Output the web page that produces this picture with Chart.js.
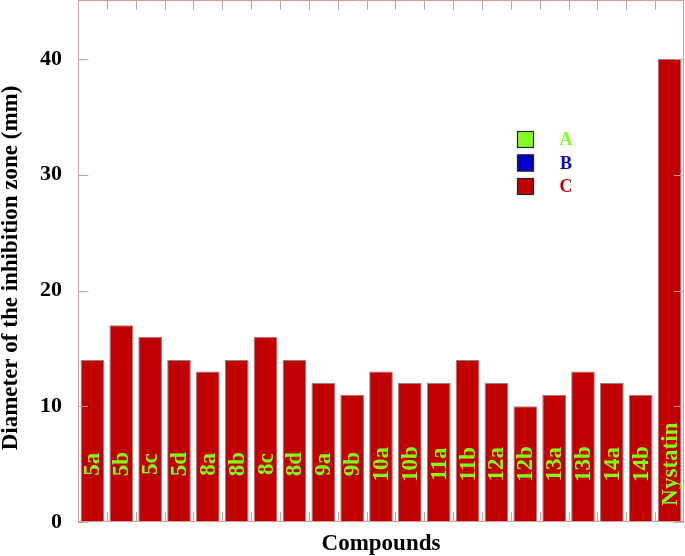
<!DOCTYPE html>
<html>
<head>
<meta charset="utf-8">
<script src="https://cdn.jsdelivr.net/npm/chart.js@4/dist/chart.umd.min.js"></script>
<style>
  html, body { margin: 0; padding: 0; background: #fff; }
  #wrap { width: 685px; height: 556px; position: relative; }
</style>
</head>
<body>
<div id="wrap"><canvas id="zoneChart"></canvas></div>
<script>
const compounds = ['5a', '5b', '5c', '5d', '8a', '8b', '8c', '8d', '9a', '9b', '10a',
  '10b', '11a', '11b', '12a', '12b', '13a', '13b', '14a', '14b', 'Nystatin'];
const seriesA = [];
const seriesB = [];
const seriesC = [14, 17, 16, 14, 13, 14, 16, 14, 12, 11, 13, 12, 12, 14, 12, 10, 11, 13, 12, 11, 40];
const yTicks = [0, 10, 20, 30, 40];
const yTitle = 'Diameter of the inhibition zone (mm)';

const serif = '"Liberation Serif", "Times New Roman", serif';
const frameColor = '#d99a9a';
const labelGreen = '#80ff10';

// frame, inward ticks, bar labels, y title and the legend box
const decorations = {
  id: 'decorations',
  afterDatasetsDraw(chart) {
    const ctx = chart.ctx;
    const a = chart.chartArea;
    const x = chart.scales.x;
    const y = chart.scales.y;
    ctx.save();

    // compound names inside the bars
    const meta = chart.getDatasetMeta(2);
    ctx.font = 'bold 23px ' + serif;
    ctx.fillStyle = labelGreen;
    ctx.textAlign = 'center';
    ctx.textBaseline = 'middle';
    meta.data.forEach((bar, i) => {
      ctx.save();
      ctx.translate(bar.x + 1, y.getPixelForValue(5));
      ctx.rotate(-Math.PI / 2);
      ctx.fillText(compounds[i], 0, 0);
      ctx.restore();
    });

    // y axis title, sits a bit below the middle in the original
    ctx.save();
    ctx.fillStyle = '#000';
    ctx.translate(11, 268);
    ctx.rotate(-Math.PI / 2);
    ctx.fillText(yTitle, 0, 0);
    ctx.restore();

    // frame
    ctx.strokeStyle = frameColor;
    ctx.lineWidth = 1;
    ctx.strokeRect(a.left + 0.5, a.top + 0.5, a.right - a.left - 1, a.bottom - a.top - 1);

    // y ticks on both sides
    ctx.beginPath();
    yTicks.forEach(v => {
      const py = Math.round(y.getPixelForValue(v)) + 0.5;
      ctx.moveTo(a.left, py); ctx.lineTo(a.left + 10, py);
      ctx.moveTo(a.right, py); ctx.lineTo(a.right - 10, py);
    });
    // x ticks at category boundaries, top and bottom
    for (let i = 1; i < compounds.length; i++) {
      const px = Math.round((x.getPixelForValue(i - 1) + x.getPixelForValue(i)) / 2) + 0.5;
      ctx.moveTo(px, a.top); ctx.lineTo(px, a.top + 10);
      ctx.moveTo(px, a.bottom); ctx.lineTo(px, a.bottom - 10);
    }
    ctx.stroke();

    // legend
    const lx = 517, ly = 131, size = 17, gap = 23.5;
    chart.data.datasets.forEach((ds, i) => {
      const top = ly + i * gap;
      ctx.fillStyle = ds.backgroundColor;
      ctx.fillRect(lx, top, size, size);
      ctx.strokeStyle = '#222';
      ctx.lineWidth = 1.2;
      ctx.strokeRect(lx + 0.5, top + 0.5, size - 1, size - 1);
      ctx.font = 'bold 18px ' + serif;
      ctx.fillStyle = ds.textColor;
      ctx.textAlign = 'center';
      ctx.textBaseline = 'middle';
      ctx.fillText(ds.label, 566, top + size / 2 + 1);
    });
    ctx.restore();
  }
};

new Chart(document.getElementById('zoneChart'), {
  type: 'bar',
  data: {
    labels: compounds,
    datasets: [
      { label: 'A', data: seriesA, backgroundColor: '#80ff20', textColor: '#80ff20' },
      { label: 'B', data: seriesB, backgroundColor: '#0000c8', textColor: '#0000c8' },
      {
        label: 'C',
        data: seriesC,
        backgroundColor: '#c00000',
        textColor: '#c00000',
        borderColor: 'rgba(70, 20, 20, 0.55)',
        borderWidth: 1,
        borderSkipped: 'bottom'
      }
    ]
  },
  options: {
    responsive: true,
    maintainAspectRatio: false,
    animation: false,
    layout: { padding: { top: 0, right: 1, left: 0, bottom: 0 } },
    datasets: { bar: { grouped: false, categoryPercentage: 0.82, barPercentage: 1 } },
    plugins: {
      legend: { display: false },
      tooltip: { enabled: false }
    },
    scales: {
      x: {
        grid: { display: false, drawTicks: false },
        border: { display: false },
        ticks: { display: false },
        title: {
          display: true,
          text: 'Compounds',
          color: '#000',
          padding: 0,
          font: { family: serif, size: 23, weight: 'bold', lineHeight: 1 }
        },
        afterFit(scale) {
          scale.height = 34;
          scale.paddingLeft = 0;
          scale.paddingRight = 0;
        }
      },
      y: {
        min: 0,
        max: 45.1,
        grid: { display: false, drawTicks: false },
        border: { display: false },
        ticks: {
          stepSize: 10,
          padding: 16,
          color: '#000',
          font: { family: serif, size: 22, weight: 'bold' }
        },
        afterBuildTicks(scale) {
          scale.ticks = yTicks.map(v => ({ value: v }));
        },
        afterFit(scale) {
          scale.width = 78;
          scale.paddingTop = 0;
          scale.paddingBottom = 0;
        }
      }
    }
  },
  plugins: [decorations]
});
</script>
</body>
</html>
